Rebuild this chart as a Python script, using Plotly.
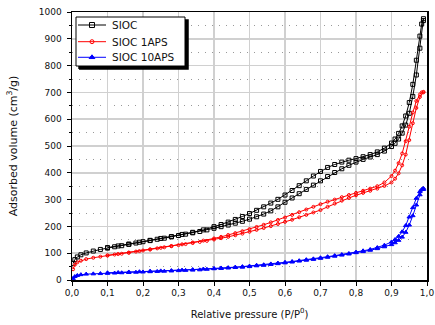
import plotly.graph_objects as go

# Relative pressure grids (adsorption going up, desorption coming down)
p_ads = [0.003, 0.008, 0.015, 0.025, 0.04, 0.06, 0.08,
         0.10, 0.12, 0.14, 0.16, 0.18, 0.20, 0.22, 0.24, 0.26, 0.28,
         0.30, 0.32, 0.34, 0.36, 0.38, 0.40, 0.42, 0.44, 0.46, 0.48,
         0.50, 0.52, 0.54, 0.56, 0.58, 0.60, 0.62, 0.64, 0.66, 0.68,
         0.70, 0.72, 0.74, 0.76, 0.78, 0.80, 0.82, 0.84, 0.86, 0.88,
         0.90, 0.91, 0.92, 0.93, 0.94, 0.95, 0.96, 0.97, 0.98, 0.99]
p_des = [0.99, 0.985, 0.98, 0.97, 0.96, 0.95, 0.94, 0.93, 0.92, 0.91,
         0.90, 0.88, 0.86, 0.84, 0.82, 0.80, 0.78, 0.76, 0.74, 0.72,
         0.70, 0.68, 0.66, 0.64, 0.62, 0.60, 0.58, 0.56, 0.54, 0.52,
         0.50, 0.48, 0.46, 0.44, 0.42, 0.40, 0.37, 0.34, 0.31, 0.28,
         0.25, 0.22, 0.19, 0.16, 0.13, 0.10]

# SIOC
sioc_ads = [62, 76, 86, 94, 101, 108, 114,
            119, 124, 128, 133, 138, 143, 147, 152, 156, 161,
            166, 171, 176, 181, 187, 193, 199, 205, 212, 219,
            227, 236, 246, 258, 273, 290, 306, 322, 338, 354,
            370, 386, 401, 415, 428, 440, 450, 459, 468, 481,
            498, 510, 526, 548, 578, 622, 685, 765, 865, 968]
sioc_des = [975, 955, 910, 820, 730, 662, 612, 575, 547, 526,
            511, 492, 478, 468, 460, 453, 447, 440, 431, 420,
            405, 388, 370, 352, 334, 317, 301, 287, 273, 260,
            248, 237, 226, 216, 207, 199, 187, 178, 170, 162,
            155, 148, 141, 134, 127, 121]

# SIOC 1APS
aps1_ads = [40, 57, 66, 72, 78, 83, 87,
            91, 95, 98, 102, 106, 110, 114, 118, 122, 126,
            130, 134, 138, 142, 146, 151, 156, 161, 167, 173,
            180, 187, 194, 201, 209, 217, 225, 234, 243, 252,
            261, 273, 285, 296, 306, 316, 325, 333, 341, 351,
            364, 378, 398, 428, 468, 522, 585, 642, 683, 700]
aps1_des = [702, 700, 692, 668, 625, 572, 518, 472, 436, 408,
            388, 364, 350, 341, 333, 325, 317, 309, 300, 292,
            283, 273, 263, 253, 243, 233, 224, 215, 206, 198,
            190, 182, 175, 168, 161, 155, 147, 140, 133, 127,
            120, 114, 108, 102, 97, 92]

# SIOC 10APS
aps10_ads = [6, 13, 17, 20, 22, 23, 24,
             25, 26, 27, 28, 29, 30, 31, 32, 33, 34,
             35, 36, 37, 38, 40, 42, 43, 45, 47, 48,
             50, 53, 55, 58, 61, 64, 67, 71, 74, 77,
             81, 85, 89, 93, 97, 102, 106, 111, 117, 124,
             132, 139, 148, 160, 178, 205, 240, 280, 318, 338]
aps10_des = [342, 338, 330, 305, 270, 235, 203, 180, 163, 151,
             142, 130, 121, 114, 109, 104, 99, 95, 91, 87,
             83, 79, 76, 72, 69, 66, 63, 60, 57, 55,
             52, 50, 48, 46, 45, 43, 41, 39, 37, 35,
             34, 33, 31, 30, 28, 27]

series_names = ["SIOC", "SIOC 1APS", "SIOC 10APS"]
series_ads = [sioc_ads, aps1_ads, aps10_ads]
series_des = [sioc_des, aps1_des, aps10_des]
colors = ["#000000", "#ff0000", "#0000ff"]
symbols = ["square-open", "circle-open", "triangle-up"]
msizes = [4, 3, 4]

x_ticks = [0.0, 0.1, 0.2, 0.3, 0.4, 0.5, 0.6, 0.7, 0.8, 0.9, 1.0]
x_ticklabels = ["0,0", "0,1", "0,2", "0,3", "0,4", "0,5", "0,6", "0,7", "0,8", "0,9", "1,0"]
y_ticks = [0, 100, 200, 300, 400, 500, 600, 700, 800, 900, 1000]

fig = go.Figure()
for name, ads, des, c, s, ms in zip(series_names, series_ads, series_des, colors, symbols, msizes):
    fig.add_trace(go.Scatter(
        x=p_ads + p_des, y=ads + des, name=name, mode="lines+markers",
        line=dict(color=c, width=1),
        marker=dict(symbol=s, size=ms, color=c, line=dict(color=c, width=1)),
        showlegend=False,
    ))

# ---- boxed legend with drop shadow, drawn on an overlay axis spanning the plot area (0..1) ----
LEG_X0, LEG_X1, LEG_Y0, LEG_Y1 = 0.0113, 0.3183, 0.7985, 0.9813
SHADOW_DX, SHADOW_DY = 0.0085, -0.0112
LINE_X0, LINE_X1, MARK_X, TEXT_X = 0.0169, 0.0958, 0.0563, 0.1070
ENTRY_Y = [0.9515, 0.8892, 0.8310]

fig.add_trace(go.Scatter(
    x=[LEG_X0 + SHADOW_DX, LEG_X1 + SHADOW_DX, LEG_X1 + SHADOW_DX, LEG_X0 + SHADOW_DX, LEG_X0 + SHADOW_DX],
    y=[LEG_Y0 + SHADOW_DY, LEG_Y0 + SHADOW_DY, LEG_Y1 + SHADOW_DY, LEG_Y1 + SHADOW_DY, LEG_Y0 + SHADOW_DY],
    xaxis="x2", yaxis="y2", mode="lines", fill="toself", fillcolor="black",
    line=dict(width=1.5, color="black"), showlegend=False, hoverinfo="skip"))
fig.add_trace(go.Scatter(
    x=[LEG_X0, LEG_X1, LEG_X1, LEG_X0, LEG_X0],
    y=[LEG_Y0, LEG_Y0, LEG_Y1, LEG_Y1, LEG_Y0],
    xaxis="x2", yaxis="y2", mode="lines", fill="toself", fillcolor="white",
    line=dict(width=1, color="black"), showlegend=False, hoverinfo="skip"))
for name, c, s, ms, ey in zip(series_names, colors, symbols, msizes, ENTRY_Y):
    fig.add_trace(go.Scatter(
        x=[LINE_X0, LINE_X1], y=[ey, ey], xaxis="x2", yaxis="y2", mode="lines",
        line=dict(color=c, width=1), showlegend=False, hoverinfo="skip"))
    fig.add_trace(go.Scatter(
        x=[MARK_X], y=[ey], xaxis="x2", yaxis="y2", mode="markers",
        marker=dict(symbol=s, size=ms + 1, color=c, line=dict(color=c, width=1)),
        showlegend=False, hoverinfo="skip"))
    fig.add_annotation(x=TEXT_X, y=ey, xref="x2", yref="y2", text=name, showarrow=False,
                       xanchor="left", yanchor="middle",
                       font=dict(size=10.5, color="#111111"))

font_family = "DejaVu Sans, Verdana, sans-serif"

fig.update_layout(
    width=435, height=325,
    margin=dict(l=72, r=8, t=12, b=45, autoexpand=False),
    paper_bgcolor="white", plot_bgcolor="white",
    font=dict(family=font_family, color="#111111", size=10),
    showlegend=False,
    xaxis=dict(
        range=[0, 1.0], tickvals=x_ticks, ticktext=x_ticklabels,
        showgrid=True, gridcolor="#d0d0d0", gridwidth=1.5,
        showline=True, linecolor="black", linewidth=1.5, mirror=True,
        ticks="outside", ticklen=4, tickcolor="black",
        tickfont=dict(size=9), automargin=False,
        zeroline=False,
        title=dict(text="Relative pressure (P/P<sup>0</sup>)", font=dict(size=10), standoff=13),
    ),
    yaxis=dict(
        range=[0, 1000], tickvals=y_ticks,
        showgrid=True, gridcolor="#d0d0d0", gridwidth=1.5,
        showline=True, linecolor="black", linewidth=1.5, mirror=True,
        ticks="outside", ticklen=4, tickcolor="black",
        tickfont=dict(size=9), ticklabelstandoff=3, automargin=False,
        zeroline=False,
        minor=dict(dtick=50, tick0=0, ticks="outside", ticklen=2, tickcolor="black",
                   showgrid=True, gridcolor="#999999", gridwidth=1, griddash="1px,6px"),
        title=dict(text="Adsorbed volume (cm<sup>3</sup>/g)", font=dict(size=11), standoff=19),
    ),
    xaxis2=dict(overlaying="x", range=[0, 1], visible=False, fixedrange=True, anchor="y2"),
    yaxis2=dict(overlaying="y", range=[0, 1], visible=False, fixedrange=True, anchor="x2"),
)

# remove the browser's default 8px page margin so the 435x325 figure fills the window
fig.write_html("out.html",
               config={"displayModeBar": False, "staticPlot": True},
               post_script="document.body.style.margin='0';document.body.style.overflow='hidden';")
